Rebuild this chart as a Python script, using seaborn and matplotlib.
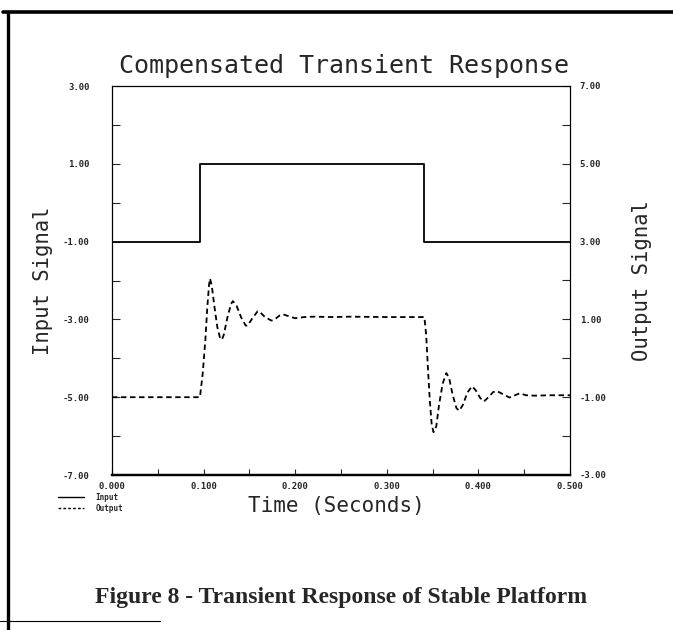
import numpy as np
import pandas as pd
import matplotlib
matplotlib.use("Agg")
import matplotlib.pyplot as plt
from matplotlib.lines import Line2D
import seaborn as sns

# ---- data ----
input_time = [0.000, 0.096, 0.096, 0.341, 0.341, 0.500]
input_signal = [-1.0, -1.0, 1.0, 1.0, -1.0, -1.0]

output_time = [0.000, 0.096, 0.099, 0.102, 0.104, 0.106, 0.107, 0.109, 0.112,
               0.115, 0.118, 0.120, 0.122, 0.126, 0.130, 0.132, 0.136, 0.141,
               0.146, 0.148, 0.153, 0.159, 0.161, 0.167, 0.174, 0.177, 0.183,
               0.187, 0.193, 0.200, 0.210, 0.220, 0.240, 0.260, 0.300, 0.341,
               0.343, 0.345, 0.347, 0.349, 0.351, 0.354, 0.357, 0.361, 0.365,
               0.368, 0.372, 0.376, 0.379, 0.383, 0.388, 0.393, 0.397, 0.402,
               0.406, 0.411, 0.416, 0.420, 0.425, 0.434, 0.440, 0.445, 0.452,
               0.460, 0.480, 0.500]
output_signal = [-1.00, -1.00, -0.40, 0.50, 1.30, 1.90, 2.05, 1.85, 1.30,
                 0.80, 0.52, 0.48, 0.60, 1.05, 1.40, 1.47, 1.35, 1.05,
                 0.84, 0.84, 1.02, 1.21, 1.20, 1.06, 0.97, 0.99, 1.10,
                 1.13, 1.08, 1.03, 1.06, 1.07, 1.06, 1.07, 1.06, 1.06,
                 0.60, -0.30, -1.10, -1.70, -1.90, -1.75, -1.20, -0.65, -0.38,
                 -0.50, -0.95, -1.28, -1.35, -1.20, -0.88, -0.72, -0.82, -1.02,
                 -1.11, -1.00, -0.87, -0.84, -0.90, -1.01, -0.95, -0.90, -0.95,
                 -0.96, -0.95, -0.95]

x_ticks = [0.0, 0.1, 0.2, 0.3, 0.4, 0.5]
x_ticklabels = ["0.000", "0.100", "0.200", "0.300", "0.400", "0.500"]
left_ticks = [-7, -5, -3, -1, 1, 3]
left_ticklabels = ["-7.00", "-5.00", "-3.00", "-1.00", "1.00", "3.00"]
right_ticks = [-3, -1, 1, 3, 5, 7]
right_ticklabels = ["-3.00", "-1.00", "1.00", "3.00", "5.00", "7.00"]

title = "Compensated Transient Response"
caption = "Figure 8 - Transient Response of Stable Platform"

# ---- figure ----
sns.set_style("white")
plt.rcParams["font.family"] = ["DejaVu Sans Mono", "DejaVu Sans"]

W, H = 673, 630
fig = plt.figure(figsize=(W / 100, H / 100), dpi=100)
fig.patch.set_facecolor("white")
ax = fig.add_axes([112 / W, 1 - 475 / H, 458 / W, 389 / H])
ax2 = ax.twinx()

in_df = pd.DataFrame({"t": input_time, "v": input_signal})
out_df = pd.DataFrame({"t": output_time, "v": output_signal})

sns.lineplot(data=in_df, x="t", y="v", ax=ax, estimator=None, sort=False,
             color="black", linewidth=1.3)
sns.lineplot(data=out_df, x="t", y="v", ax=ax2, estimator=None, sort=False,
             color="black", linewidth=1.3, linestyle=(0, (3, 2)))

ax.set_xlim(0, 0.5)
ax.set_ylim(-7, 3)
ax2.set_ylim(-3, 7)

ax.set_xticks(x_ticks)
ax.set_xticklabels(x_ticklabels)
ax.set_xticks(np.arange(0.05, 0.5, 0.1), minor=True)
ax.set_yticks(left_ticks)
ax.set_yticklabels(left_ticklabels)
ax.set_yticks([-6, -4, -2, 0, 2], minor=True)
ax2.set_yticks(right_ticks)
ax2.set_yticklabels(right_ticklabels)
ax2.set_yticks([-2, 0, 2, 4, 6], minor=True)

for lab in ax.get_xticklabels() + ax.get_yticklabels() + ax2.get_yticklabels():
    lab.set_fontsize(6.5)
    lab.set_fontweight("bold")

ax.tick_params(axis="x", which="both", direction="in", length=4, width=0.8,
               pad=5, top=False, bottom=True)
ax.tick_params(axis="y", which="both", direction="in", length=6, width=0.8,
               pad=16, left=True, right=False)
ax2.tick_params(axis="y", which="both", direction="in", length=6, width=0.8,
                pad=7, right=True, left=False)

for a in (ax, ax2):
    for s in a.spines.values():
        s.set_color("black")
        s.set_linewidth(0.8)
    a.spines["bottom"].set_linewidth(1.6)

ax.set_title(title, fontsize=18, pad=9, fontweight="light", x=0.507)
ax.set_xlabel("Time (Seconds)", fontsize=15)
ax.xaxis.set_label_coords(0.489, -0.055)
ax.set_ylabel("Input Signal", fontsize=14.8)
ax.yaxis.set_label_coords(-0.129, 0.5)
ax2.set_ylabel("Output Signal", fontsize=14.8, rotation=90)
ax2.yaxis.set_label_coords(1.135, 0.5)

# legend below the axes, lower left
handles = [Line2D([], [], color="black", lw=1.0),
           Line2D([], [], color="black", lw=1.0, linestyle=(0, (2, 1.5)))]
fig.legend(handles, ["Input", "Output"], loc="upper left",
           bbox_to_anchor=(58 / W, 1 - 493 / H), frameon=False,
           prop=dict(size=5.5, weight="bold"), handlelength=3.4,
           handletextpad=1.5, labelspacing=0.25, borderpad=0,
           borderaxespad=0)

# caption
fig.text(0.507, 1 - 597 / H, caption, ha="center", va="center",
         fontsize=17, fontweight="bold", family=["Liberation Serif"])

# page frame lines (scanned border)
fig.add_artist(Line2D([0.004, 1.0], [1 - 12 / H, 1 - 12 / H],
                      transform=fig.transFigure, color="black", lw=2.6))
fig.add_artist(Line2D([8 / W, 8 / W], [0.0, 1 - 12 / H],
                      transform=fig.transFigure, color="black", lw=2.4))
fig.add_artist(Line2D([0.0, 160 / W], [1 - 621 / H, 1 - 621 / H],
                      transform=fig.transFigure, color="black", lw=0.8))

fig.savefig("out.png", dpi=100, facecolor="white")
